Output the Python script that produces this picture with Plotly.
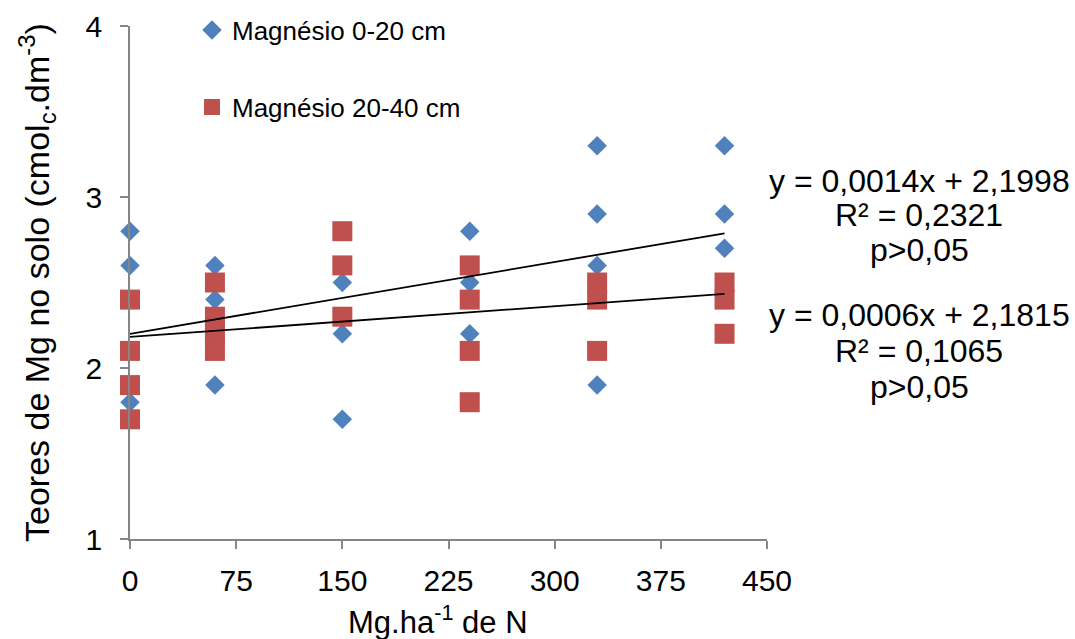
import plotly.graph_objects as go

# ---- data ----
x_0_20 = [0, 0, 0, 60, 60, 60, 150, 150, 150, 240, 240, 240, 330, 330, 330, 330, 420, 420, 420]
y_0_20 = [2.8, 2.6, 1.8, 2.6, 2.4, 1.9, 2.5, 2.2, 1.7, 2.8, 2.5, 2.2, 3.3, 2.9, 2.6, 1.9, 3.3, 2.9, 2.7]

x_20_40 = [0, 0, 0, 0, 60, 60, 60, 60, 150, 150, 150, 240, 240, 240, 240, 330, 330, 330, 420, 420, 420]
y_20_40 = [2.4, 2.1, 1.9, 1.7, 2.5, 2.3, 2.2, 2.1, 2.8, 2.6, 2.3, 2.6, 2.4, 2.1, 1.8, 2.5, 2.4, 2.1, 2.5, 2.4, 2.2]

# trend line equations (as printed on chart)
slope_1, inter_1 = 0.0014, 2.1998
slope_2, inter_2 = 0.0006, 2.1815
trend_x = [0, 420]

eq1_lines = ["y = 0,0014x + 2,1998", "R² = 0,2321", "p>0,05"]
eq2_lines = ["y = 0,0006x + 2,1815", "R² = 0,1065", "p>0,05"]

x_ticks = [0, 75, 150, 225, 300, 375, 450]
y_ticks = [1, 2, 3, 4]

FONT = "Liberation Sans, Arial, sans-serif"
AXC = "#868686"

fig = go.Figure()

fig.add_trace(go.Scatter(
    x=x_0_20, y=y_0_20, mode="markers", name="Magnésio 0-20 cm",
    marker=dict(symbol="diamond", size=15, color="#4F81BD"),
    cliponaxis=False, legend="legend"))
fig.add_trace(go.Scatter(
    x=x_20_40, y=y_20_40, mode="markers", name="Magnésio 20-40 cm",
    marker=dict(symbol="square", size=20, color="#C0504D"),
    cliponaxis=False, legend="legend2"))

fig.add_trace(go.Scatter(
    x=trend_x, y=[inter_1 + slope_1 * v for v in trend_x], mode="lines",
    line=dict(color="black", width=1.8), showlegend=False, hoverinfo="skip"))
fig.add_trace(go.Scatter(
    x=trend_x, y=[inter_2 + slope_2 * v for v in trend_x], mode="lines",
    line=dict(color="black", width=1.8), showlegend=False, hoverinfo="skip"))

L, R, T, B = 130, 308, 26, 100
W, H = 1075, 639
pw, ph = W - L - R, H - T - B

def px(xp):
    return (xp - L) / pw

def py(yp):
    return (H - B - yp) / ph

annots = []
for lines, centers in ((eq1_lines, [181, 215, 250]), (eq2_lines, [315, 351, 387])):
    for txt, c in zip(lines, centers):
        annots.append(dict(text=txt, x=px(919), y=py(c), xref="paper", yref="paper",
                           xanchor="center", yanchor="middle", showarrow=False,
                           font=dict(size=32, color="black", family=FONT)))

annots.append(dict(text="Mg.ha<sup>-1</sup> de N", x=px(438), y=py(620), xref="paper", yref="paper",
                   xanchor="center", yanchor="middle", showarrow=False,
                   font=dict(size=31, color="black", family=FONT)))
annots.append(dict(text="Teores de Mg no solo (cmol<sub>c</sub>.dm<sup>-3</sup>)",
                   x=px(37), y=py(283), xref="paper", yref="paper", textangle=-90,
                   xanchor="center", yanchor="middle", showarrow=False,
                   font=dict(size=34, color="black", family=FONT)))

fig.update_layout(
    width=W, height=H,
    margin=dict(l=L, r=R, t=T, b=B, autoexpand=False),
    paper_bgcolor="white", plot_bgcolor="white",
    font=dict(family=FONT, color="black"),
    annotations=annots,
    legend=dict(x=px(192), y=py(30), xanchor="left", yanchor="middle",
                font=dict(size=26, family=FONT), bgcolor="rgba(0,0,0,0)"),
    legend2=dict(x=px(192), y=py(107), xanchor="left", yanchor="middle",
                 font=dict(size=26, family=FONT), bgcolor="rgba(0,0,0,0)"),
    xaxis=dict(range=[0, 450], tickvals=x_ticks, ticktext=[str(v) for v in x_ticks],
               showgrid=False, zeroline=False, showline=True, linecolor=AXC, linewidth=1.5,
               ticks="outside", ticklen=8, tickcolor=AXC, tickwidth=1.5, automargin=False,
               tickfont=dict(size=30, family=FONT), ticklabelstandoff=6),
    yaxis=dict(range=[1, 4], tickvals=y_ticks, ticktext=[str(v) for v in y_ticks],
               showgrid=False, zeroline=False, showline=True, linecolor=AXC, linewidth=1.5,
               ticks="outside", ticklen=8, tickcolor=AXC, tickwidth=1.5, automargin=False,
               tickfont=dict(size=30, family=FONT), ticklabelstandoff=12),
)

fig.write_html("out.html")
